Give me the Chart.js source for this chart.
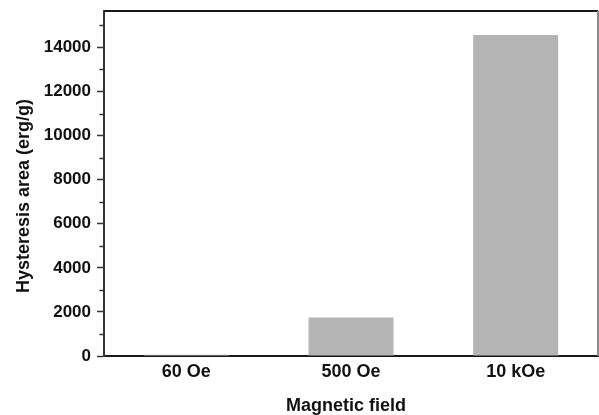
<!DOCTYPE html>
<html>
<head>
<meta charset="utf-8">
<script src="https://cdn.jsdelivr.net/npm/chart.js@4/dist/chart.umd.min.js"></script>
<style>
  html, body { margin: 0; padding: 0; background: #fff; }
  #wrap { width: 599px; height: 415px; }
</style>
</head>
<body>
<div id="wrap"><canvas id="chart" width="599" height="415"></canvas></div>
<script>
  const fields = ['60 Oe', '500 Oe', '10 kOe'];
  const areas = [60, 1750, 14560];
  const majorTicks = [0, 2000, 4000, 6000, 8000, 10000, 12000, 14000];
  const minorTicks = [1000, 3000, 5000, 7000, 9000, 11000, 13000, 15000];

  const FONT = '"Liberation Sans", Arial, Helvetica, sans-serif';
  const NB = '\u00a0';

  // frame on top/right + short minor ticks on y axis
  const frame = {
    id: 'frame',
    afterDraw(chart) {
      const { ctx, chartArea: a, scales } = chart;
      ctx.save();
      ctx.lineWidth = 2;
      ctx.strokeStyle = '#1a1a1a';
      ctx.beginPath();
      ctx.moveTo(a.left, a.top);
      ctx.lineTo(a.right, a.top);
      ctx.stroke();
      ctx.strokeStyle = '#8a8a8a';
      ctx.beginPath();
      ctx.moveTo(a.right, a.top);
      ctx.lineTo(a.right, a.bottom);
      ctx.stroke();

      ctx.lineWidth = 1.5;
      ctx.strokeStyle = '#333';
      minorTicks.forEach(v => {
        const y = Math.round(scales.y.getPixelForValue(v)) + 0.5;
        ctx.beginPath();
        ctx.moveTo(a.left - 4.5, y);
        ctx.lineTo(a.left, y);
        ctx.stroke();
      });
      ctx.restore();
    }
  };

  new Chart(document.getElementById('chart'), {
    type: 'bar',
    data: {
      labels: fields,
      datasets: [{
        data: areas,
        backgroundColor: '#b4b4b4',
        borderWidth: 0,
        barPercentage: 0.516,
        categoryPercentage: 1
      }]
    },
    options: {
      responsive: false,
      animation: false,
      layout: { padding: { top: 11, right: 1, left: 0, bottom: 0 } },
      plugins: { legend: { display: false }, tooltip: { enabled: false } },
      scales: {
        x: {
          offset: true,
          grid: { display: false, drawTicks: false },
          border: { display: true, color: '#1a1a1a', width: 2 },
          ticks: { color: '#111', padding: 5, font: { family: FONT, size: 18, weight: 'bold' } },
          title: {
            display: true,
            text: 'Magnetic field' + NB + NB,
            color: '#111',
            padding: 0,
            font: { family: FONT, size: 18, weight: 'bold', lineHeight: 1 }
          },
          afterFit(s) { s.height = 59; s.paddingLeft = 0; s.paddingRight = 0; }
        },
        y: {
          min: 0,
          max: 15650,
          afterBuildTicks(s) { s.ticks = majorTicks.map(v => ({ value: v })); },
          grid: { drawOnChartArea: false, drawTicks: true, tickLength: 7, tickColor: '#333', tickWidth: 1.5 },
          border: { display: true, color: '#333', width: 2 },
          ticks: {
            padding: 6,
            color: '#111',
            font: { family: FONT, size: 17, weight: 'bold' },
            callback: v => String(v)
          },
          title: {
            display: true,
            text: 'Hysteresis area (erg/g)' + NB.repeat(5),
            color: '#111',
            padding: { top: 13, bottom: 0 },
            font: { family: FONT, size: 18, weight: 'bold' }
          },
          afterFit(s) { s.width = 104; s.paddingTop = 0; s.paddingBottom = 0; }
        }
      }
    },
    plugins: [frame]
  });
</script>
</body>
</html>
